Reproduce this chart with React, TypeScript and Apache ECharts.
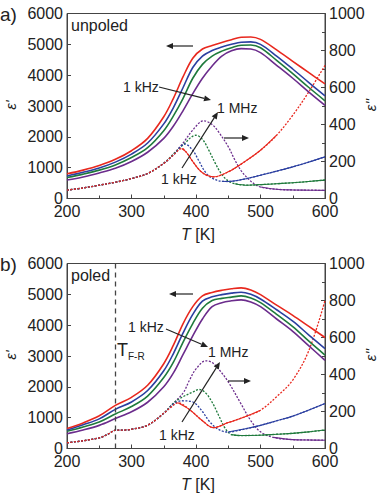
import React, { useEffect, useRef } from "react";
import * as echarts from "echarts";

// Temperatures (K) for the ε' curves
const T_VALUES = [200, 225, 250, 275, 300, 325, 350, 365, 380, 395, 410, 425, 440, 455, 470, 485, 500, 525, 550, 575, 600];

// a) unpoled, ε' (1 kHz -> 1 MHz)
const A_EPS1_RED = [800, 920, 1070, 1270, 1550, 1950, 2650, 3250, 3950, 4550, 4850, 4960, 5060, 5150, 5230, 5240, 5160, 4820, 4450, 4080, 3720];
const A_EPS1_BLUE = [730, 850, 990, 1180, 1440, 1800, 2420, 2950, 3600, 4250, 4620, 4800, 4910, 5000, 5070, 5080, 5000, 4620, 4200, 3760, 3330];
const A_EPS1_GREEN = [680, 790, 920, 1090, 1330, 1650, 2200, 2680, 3250, 3900, 4350, 4620, 4780, 4890, 4970, 4980, 4890, 4480, 4050, 3600, 3170];
const A_EPS1_PURPLE = [600, 700, 830, 980, 1200, 1500, 1950, 2350, 2850, 3400, 3900, 4300, 4620, 4790, 4860, 4850, 4730, 4320, 3900, 3450, 3020];

// b) poled, ε'
const B_EPS1_RED = [650, 830, 1060, 1400, 1660, 2050, 2750, 3350, 4050, 4600, 4950, 5060, 5130, 5180, 5210, 5140, 4990, 4650, 4320, 3960, 3600];
const B_EPS1_BLUE = [600, 770, 960, 1270, 1510, 1880, 2520, 3080, 3750, 4350, 4780, 4920, 4990, 5040, 5070, 5000, 4850, 4500, 4130, 3680, 3240];
const B_EPS1_GREEN = [560, 700, 860, 1120, 1360, 1700, 2300, 2800, 3450, 4050, 4550, 4800, 4870, 4910, 4950, 4880, 4730, 4350, 3950, 3480, 3030];
const B_EPS1_PURPLE = [480, 600, 750, 970, 1190, 1500, 2000, 2450, 3050, 3650, 4200, 4600, 4730, 4790, 4820, 4750, 4600, 4200, 3800, 3330, 2860];

// a) unpoled, ε'' as [T, value]
const A_LOW = [[200, 45], [225, 57], [250, 72], [275, 88], [300, 108], [325, 135], [350, 190]];
const A_EPS2_RED = [...A_LOW, [365, 235], [378, 270], [385, 250], [395, 200], [405, 155], [415, 128], [427, 117], [450, 144], [475, 198], [500, 261], [525, 342], [550, 450], [575, 577], [600, 720]];
const A_EPS2_BLUE = [...A_LOW, [365, 235], [383, 294], [395, 260], [405, 200], [415, 140], [425, 110], [440, 93], [450, 92], [475, 105], [500, 126], [525, 148], [550, 171], [575, 197], [600, 225]];
const A_EPS2_GREEN = [...A_LOW, [365, 240], [380, 290], [400, 342], [410, 320], [420, 260], [430, 190], [440, 130], [450, 95], [460, 80], [480, 72], [500, 75], [525, 80], [550, 85], [575, 92], [600, 100]];
const A_EPS2_PURPLE = [...A_LOW, [365, 240], [380, 300], [395, 370], [412, 420], [425, 400], [435, 360], [450, 280], [460, 210], [470, 150], [480, 110], [490, 80], [500, 62], [525, 50], [550, 46], [575, 45], [600, 44]];

// b) poled, ε''
const B_LOW = [[200, 31], [225, 42], [250, 58], [265, 80], [275, 99], [290, 100], [300, 104], [325, 126], [350, 190]];
const B_EPS2_RED = [...B_LOW, [362, 225], [372, 247], [390, 210], [410, 150], [427, 113], [450, 140], [475, 170], [500, 207], [525, 280], [550, 370], [575, 530], [600, 800]];
const B_EPS2_BLUE = [...B_LOW, [365, 240], [378, 258], [392, 255], [400, 240], [410, 200], [420, 150], [430, 115], [440, 95], [450, 89], [475, 105], [500, 125], [525, 150], [550, 175], [575, 208], [600, 243]];
const B_EPS2_GREEN = [...B_LOW, [365, 245], [380, 280], [395, 305], [405, 319], [415, 300], [425, 250], [435, 180], [445, 110], [455, 75], [470, 70], [500, 72], [525, 77], [550, 82], [575, 90], [600, 100]];
const B_EPS2_PURPLE = [...B_LOW, [365, 245], [380, 300], [390, 370], [400, 430], [415, 474], [425, 465], [435, 430], [450, 360], [470, 240], [485, 150], [500, 90], [520, 60], [550, 48], [575, 46], [600, 45]];

const T_FR = 275;

const COLORS = ["#e8281e", "#2b3fa0", "#1f7a3c", "#6b2c8c"];
const FONT = "'Liberation Sans', Arial, sans-serif";

// ranges (K) where the ε'' traces look continuous
const A_SOLID = [[375, 540], [440, 600], [455, 600], [500, 600]];
const B_SOLID = [[365, 520], [445, 600], [450, 600], [520, 600]];

function arrow(x1: number, y1: number, x2: number, y2: number) {
  const dx = x2 - x1, dy = y2 - y1;
  const len = Math.sqrt(dx * dx + dy * dy);
  const ux = dx / len, uy = dy / len;
  const hl = 7, hw = 3;
  const bx = x2 - ux * hl, by = y2 - uy * hl;
  return [
    { type: "line", shape: { x1, y1, x2: bx, y2: by }, style: { stroke: "#222", lineWidth: 1.2 }, z: 100 },
    {
      type: "polygon",
      shape: { points: [[x2, y2], [bx - uy * hw, by + ux * hw], [bx + uy * hw, by - ux * hw]] },
      style: { fill: "#222" },
      z: 100,
    },
  ];
}

function text(x: number, y: number, t: string, size: number, extra: any = {}) {
  return {
    type: "text",
    x,
    y,
    z: 100,
    style: { text: t, fontSize: size, fontFamily: FONT, fill: "#222", textVerticalAlign: "middle", ...extra },
  };
}

function rotText(x: number, y: number, t: string) {
  return {
    type: "text",
    x,
    y,
    rotation: Math.PI / 2,
    z: 100,
    style: { text: t, fontSize: 15, fontStyle: "italic", fontFamily: FONT, fill: "#222", align: "center", verticalAlign: "middle" },
  };
}

function tLabel(x: number, y: number) {
  return {
    type: "text",
    x,
    y,
    z: 100,
    style: {
      text: "{i|T} [K]",
      fontSize: 16,
      fontFamily: FONT,
      fill: "#222",
      align: "center",
      verticalAlign: "middle",
      rich: { i: { fontStyle: "italic", fontSize: 16, fontFamily: FONT, fill: "#222" } },
    },
  };
}

export default function App() {
  const ref = useRef<HTMLDivElement>(null);

  useEffect(() => {
    if (!ref.current) return;
    const chart = echarts.init(ref.current, null, { renderer: "svg" });

    const gridTops = [13.5, 263.5];
    const grids = gridTops.map((top) => ({
      left: 67,
      width: 258,
      top,
      height: 185,
      show: true,
      borderColor: "#444",
      borderWidth: 1,
      backgroundColor: "transparent",
    }));

    const labelStyle = { fontSize: 16, color: "#222", fontFamily: FONT, formatter: (v: number) => String(v) };

    const xAxes = [0, 1].map((g) => ({
      type: "value",
      gridIndex: g,
      min: 200,
      max: 600,
      interval: 100,
      axisLine: { show: true, lineStyle: { color: "#444", width: 1 } },
      axisTick: { show: true, inside: true, length: 4, lineStyle: { color: "#444" } },
      minorTick: { show: true, splitNumber: 2, length: 3, lineStyle: { color: "#444" } },
      axisLabel: { ...labelStyle, margin: 5 },
      splitLine: { show: false },
    }));

    const yAxes: any[] = [];
    [0, 1].forEach((g) => {
      yAxes.push({
        type: "value",
        gridIndex: g,
        position: "left",
        min: 0,
        max: 6000,
        interval: 1000,
        axisLine: { show: true, lineStyle: { color: "#444" } },
        axisTick: { show: true, inside: true, length: 4, lineStyle: { color: "#444" } },
        axisLabel: { ...labelStyle, margin: 4 },
        splitLine: { show: false },
      });
      yAxes.push({
        type: "value",
        gridIndex: g,
        position: "right",
        min: 0,
        max: 1000,
        interval: 200,
        axisLine: { show: true, lineStyle: { color: "#444" } },
        axisTick: { show: true, inside: true, length: 4, lineStyle: { color: "#444" } },
        minorTick: { show: true, splitNumber: 2, length: 3, lineStyle: { color: "#444" } },
        axisLabel: { ...labelStyle, margin: 4 },
        splitLine: { show: false },
      });
    });

    const series: any[] = [];
    const panels = [
      { eps1: [A_EPS1_RED, A_EPS1_BLUE, A_EPS1_GREEN, A_EPS1_PURPLE], eps2: [A_EPS2_RED, A_EPS2_BLUE, A_EPS2_GREEN, A_EPS2_PURPLE], solid: A_SOLID },
      { eps1: [B_EPS1_RED, B_EPS1_BLUE, B_EPS1_GREEN, B_EPS1_PURPLE], eps2: [B_EPS2_RED, B_EPS2_BLUE, B_EPS2_GREEN, B_EPS2_PURPLE], solid: B_SOLID },
    ];
    const SMOOTH = 0.35;
    panels.forEach((p, g) => {
      [3, 2, 1, 0].forEach((i) => {
        const d = p.eps2[i];
        series.push({
          type: "line",
          xAxisIndex: g,
          yAxisIndex: 2 * g + 1,
          data: d,
          showSymbol: false,
          smooth: SMOOTH,
          lineStyle: { color: COLORS[i], width: 1.3, type: [2, 1.5] },
          z: 2,
        });
        const [a, b] = p.solid[i];
        series.push({
          type: "line",
          xAxisIndex: g,
          yAxisIndex: 2 * g + 1,
          data: d.filter((pt) => pt[0] >= a && pt[0] <= b),
          showSymbol: false,
          smooth: SMOOTH,
          lineStyle: { color: COLORS[i], width: 1.1 },
          z: 3,
        });
      });
      [3, 2, 1, 0].forEach((i) => {
        series.push({
          type: "line",
          xAxisIndex: g,
          yAxisIndex: 2 * g,
          data: T_VALUES.map((t, k) => [t, p.eps1[i][k]]),
          showSymbol: false,
          smooth: SMOOTH,
          lineStyle: { color: COLORS[i], width: 1.6 },
          z: 4,
        });
      });
    });
    series.push({
      type: "line",
      xAxisIndex: 1,
      yAxisIndex: 2,
      data: [],
      markLine: {
        silent: true,
        symbol: ["none", "none"],
        label: { show: false },
        lineStyle: { color: "#444", type: [5, 4], width: 1.3 },
        data: [{ xAxis: T_FR }],
      },
    });

    const graphic: any[] = [
      text(0, 14, "a)", 19),
      text(0, 264, "b)", 19),
      text(71, 25, "unpoled", 16),
      text(71, 275, "poled", 16),
      rotText(10, 105, "ε'"),
      rotText(370, 105, "ε''"),
      rotText(10, 355, "ε'"),
      rotText(370, 355, "ε''"),
      tLabel(198, 234),
      tLabel(198, 484),
      // panel a annotations
      ...arrow(193, 46, 166, 46),
      ...arrow(224, 138, 249, 138),
      text(123, 87, "1 kHz", 14),
      ...arrow(159, 87, 211, 100),
      text(217, 108, "1 MHz", 14),
      text(161, 179, "1 kHz", 14),
      ...arrow(182, 168, 218, 112),
      // panel b annotations
      ...arrow(193, 294, 169, 294),
      ...arrow(228, 381, 251, 381),
      text(128, 327, "1 kHz", 14),
      ...arrow(166, 329, 208, 347),
      text(208, 352, "1 MHz", 14),
      text(159, 435, "1 kHz", 14),
      ...arrow(182, 422, 220, 362),
      {
        type: "text",
        x: 117,
        y: 350,
        z: 100,
        style: {
          text: "T{s|F-R}",
          fontSize: 18,
          fontFamily: FONT,
          fill: "#222",
          verticalAlign: "middle",
          rich: { s: { fontSize: 10, fontFamily: FONT, fill: "#222", padding: [12, 0, 0, 0] } },
        },
      },
    ];

    chart.setOption({
      animation: false,
      backgroundColor: "#fff",
      grid: grids,
      xAxis: xAxes,
      yAxis: yAxes,
      series,
      graphic,
    });
    return () => chart.dispose();
  }, []);

  return <div ref={ref} style={{ position: "absolute", left: 0, top: 0, width: 380, height: 495 }} />;
}
